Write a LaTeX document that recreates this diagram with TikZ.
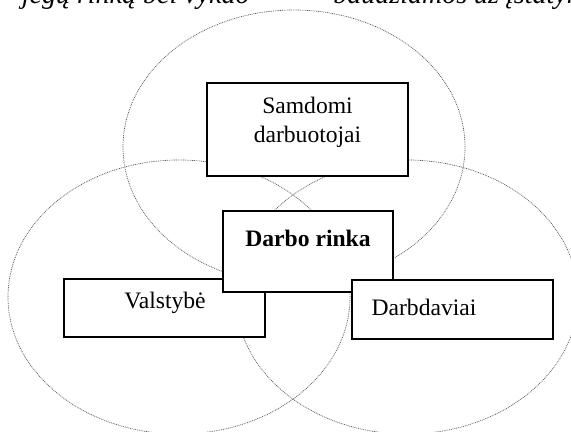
\documentclass[tikz,border=0pt]{standalone}
\usepackage{fontspec}
\setmainfont{Liberation Serif}
\begin{document}
\begin{tikzpicture}[x=0.5pt,y=-0.5pt,
  oval/.style={draw=black!65, line width=0.35pt, dash pattern=on 0.45pt off 0.45pt},
  box/.style={draw=black, fill=white, line width=0.9pt},
  lbl/.style={inner sep=0pt, align=center, font=\fontsize{11.8pt}{14.6pt}\selectfont},
  toptext/.style={inner sep=0pt, font=\fontsize{14pt}{16pt}\selectfont\itshape}]
\useasboundingbox (0,0) rectangle (571,432);
\clip (0,0) rectangle (571,432);
% clipped line of running text at the top
\node[toptext, anchor=base east] (t1) at (250,4) {jėgų rinką bei vykdo};
\node[toptext, anchor=base west] (t2) at (333,4) {baudžiamos už įstatymų};
% ovals
\draw[oval] (294,147) ellipse [x radius=85.5pt, y radius=68.5pt];
\draw[oval] (179,297) ellipse [x radius=85.5pt, y radius=68.5pt];
\draw[oval] (407,297) ellipse [x radius=85.5pt, y radius=68.5pt];
% boxes
\draw[box] (207,83) rectangle (408,176);
\node[lbl] (samdomi) at (307.5,122) {Samdomi\\darbuotojai};
\draw[box] (64,279) rectangle (265,337);
\node[lbl] (valstybe) at (165,303) {Valstybė};
\draw[box] (223,211) rectangle (393,292);
\node[lbl, font=\fontsize{11.8pt}{14.6pt}\selectfont\bfseries] (rinka) at (308,238) {Darbo rinka};
\draw[box] (352,280) rectangle (553,339);
\node[lbl] (darbdaviai) at (424,307) {Darbdaviai};
\end{tikzpicture}
\end{document}
